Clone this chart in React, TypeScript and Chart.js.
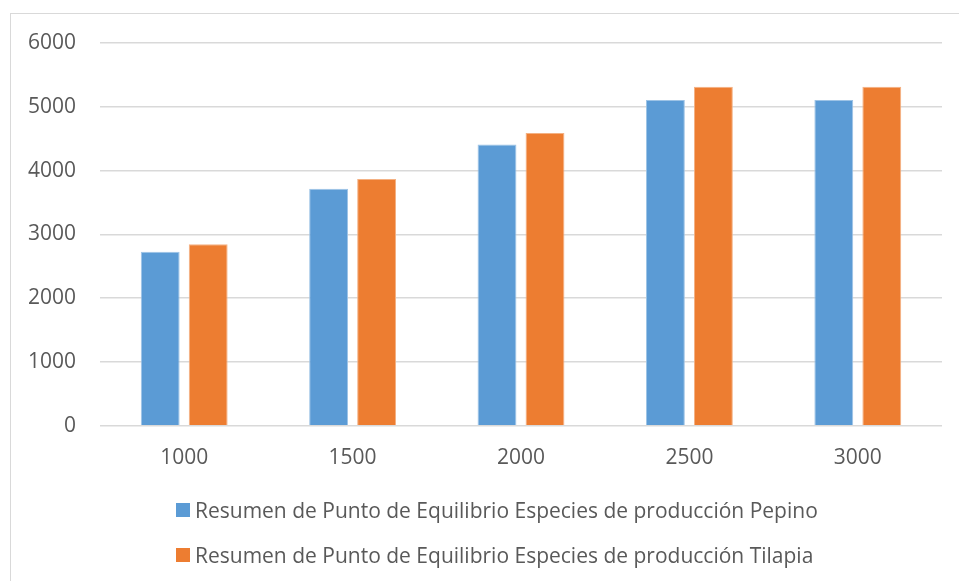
import React, { useEffect, useRef } from "react";
import { Chart, registerables } from "chart.js";

Chart.register(...registerables);

const categories = ["1000", "1500", "2000", "2500", "3000"];
const pepino = [2730, 3715, 4410, 5105, 5105];
const tilapia = [2845, 3870, 4590, 5315, 5315];
const seriesNames = [
  "Resumen de Punto de Equilibrio Especies de producción Pepino",
  "Resumen de Punto de Equilibrio Especies de producción Tilapia",
];
const seriesColors = ["#5B9BD5", "#ED7D31"];
const seriesBorders = ["#9DC3E6", "#F4B183"];
const yTicks = [0, 1000, 2000, 3000, 4000, 5000, 6000];

const FONT = "'Open Sans', 'DejaVu Sans', sans-serif";
const TEXT = "#595959";
const GRID = "#d9d9d9";

export default function App() {
  const ref = useRef<HTMLCanvasElement | null>(null);
  useEffect(() => {
    if (!ref.current) return;
    const chart = new Chart(ref.current, {
      type: "bar",
      data: {
        labels: categories,
        datasets: [pepino, tilapia].map((d, i) => ({
          label: seriesNames[i],
          data: d,
          backgroundColor: seriesColors[i],
          borderColor: seriesBorders[i],
          borderWidth: 1,
          categoryPercentage: 0.57,
          barPercentage: 0.81,
        })),
      },
      options: {
        responsive: false,
        animation: false,
        layout: { padding: { left: 0, right: 17, top: 43, bottom: 90 } },
        plugins: {
          tooltip: { enabled: false },
          legend: { display: false },
        },
        scales: {
          x: {
            grid: { display: false, drawTicks: false },
            border: { display: false },
            ticks: { color: TEXT, font: { family: FONT, size: 21 }, padding: 20 },
          },
          y: {
            min: 0,
            max: 6000,
            afterFit: (s: any) => {
              s.width = 100;
            },
            afterBuildTicks: (s: any) => {
              s.ticks = yTicks.map((v) => ({ value: v }));
            },
            grid: { color: GRID, lineWidth: 1.5, drawTicks: false },
            border: { display: false },
            ticks: {
              color: TEXT,
              font: { family: FONT, size: 21 },
              padding: 24,
              callback: (v: any) => String(v),
            },
          },
        },
      },
    });
    return () => chart.destroy();
  }, []);
  return (
    <div style={{ position: "fixed", left: 0, top: 0, width: 959, height: 581, background: "#fff", overflow: "hidden" }}>
      <div
        style={{
          position: "absolute",
          left: 10,
          top: 13,
          width: 1000,
          height: 1000,
          borderTop: "1px solid #d9d9d9",
          borderLeft: "1px solid #d9d9d9",
        }}
      />
      <canvas ref={ref} width={959} height={581} style={{ position: "absolute", left: 0, top: 0 }} />
      {seriesNames.map((name, i) => (
        <div
          key={name}
          style={{
            position: "absolute",
            left: 176,
            top: 498 + i * 45,
            height: 24,
            display: "flex",
            alignItems: "center",
            whiteSpace: "nowrap",
            fontFamily: FONT,
            fontSize: 21,
            color: TEXT,
            lineHeight: "24px",
          }}
        >
          <span style={{ display: "inline-block", width: 14, height: 14, background: seriesColors[i], marginRight: 5 }} />
          <span>{name}</span>
        </div>
      ))}
    </div>
  );
}
